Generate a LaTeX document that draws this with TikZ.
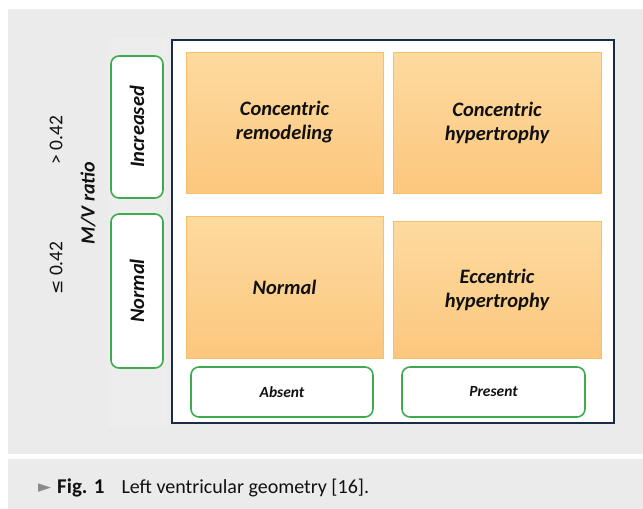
\documentclass[tikz,border=0pt]{standalone}
\usepackage{fontspec}
\setmainfont{Carlito}
\newfontfamily\symfont{DejaVu Sans}
\definecolor{panelgray}{HTML}{EBEBEB}
\definecolor{colgray}{HTML}{EDEDED}
\definecolor{framenavy}{HTML}{1B2B47}
\definecolor{otop}{HTML}{FDDA9F}
\definecolor{obot}{HTML}{FCC77E}
\definecolor{oedge}{HTML}{F8C066}
\definecolor{gedge}{HTML}{3DAA4E}
\definecolor{ink}{HTML}{111111}
\definecolor{arrowgray}{HTML}{8A8A8A}
\begin{document}
\begin{tikzpicture}[x=1pt,y=-1pt,
  obox/.style={draw=oedge,line width=0.9pt,top color=otop,bottom color=obot,
    inner sep=0pt,align=center,text=ink,
    font=\fontsize{20.5}{24}\selectfont\bfseries\itshape},
  gbox/.style={draw=gedge,line width=1.6pt,fill=white,rounded corners=8pt,
    inner sep=0pt,align=center,text=ink},
  sidetext/.style={rotate=90,text=ink,inner sep=0pt},
]
\useasboundingbox (0,0) rectangle (643,509);
\fill[white] (0,0) rectangle (643,509);
% background panels
\fill[panelgray] (8,9) rectangle (643,454);
\fill[panelgray] (8,459) rectangle (643,509);
\fill[colgray] (108,38) rectangle (167,427);
% outer frame
\draw[framenavy,line width=2pt,fill=white] (172,40) rectangle (614,423);
% the four geometry classes
\node[obox,minimum width=197pt,minimum height=141pt] (cr) at (284.5,122.5) {Concentric\\remodeling};
\node[obox,minimum width=208pt,minimum height=141pt] (ch) at (497,122.5) {Concentric\\hypertrophy};
\node[obox,minimum width=197pt,minimum height=142pt] (nm) at (284.5,287) {Normal};
\node[obox,minimum width=208pt,minimum height=137pt] (eh) at (497,289.5) {Eccentric\\hypertrophy};
% horizontal axis labels
\node[gbox,minimum width=182pt,minimum height=50pt,font=\fontsize{15.5}{18}\selectfont\bfseries\itshape] (ab) at (282,392) {Absent};
\node[gbox,minimum width=183pt,minimum height=50pt,font=\fontsize{15.5}{18}\selectfont\bfseries\itshape] (pr) at (493.5,392) {Present};
% vertical axis labels
\node[gbox,rotate=90,minimum width=142pt,minimum height=52pt,font=\fontsize{20.5}{24}\selectfont\bfseries\itshape] (inc) at (137,127) {Increased};
\node[gbox,rotate=90,minimum width=154pt,minimum height=52pt,font=\fontsize{20.5}{24}\selectfont\bfseries\itshape] (nrm) at (137,291) {Normal};
% ratio thresholds
\node[sidetext,font=\fontsize{19.5}{22}\selectfont] (gt) at (56,140) {> 0.42};
\node[sidetext,font=\fontsize{19.5}{22}\selectfont] (le) at (56,268) {{\symfont\fontsize{17}{22}\selectfont ≤} 0.42};
\node[sidetext,font=\fontsize{20}{22}\selectfont\bfseries\itshape] (mv) at (88,203) {M/V ratio};
% caption
\node[anchor=base west,inner sep=0pt,text=arrowgray,font=\symfont\fontsize{17}{19}\selectfont] (tri) at (38,492) {►};
\node[anchor=base west,inner sep=0pt,text=ink,font=\fontsize{20}{22}\selectfont] (cap) at (57,493)
  {\textbf{\fontsize{21}{22}\selectfont Fig. 1}\hspace{17pt}Left ventricular geometry [16].};
\end{tikzpicture}
\end{document}
